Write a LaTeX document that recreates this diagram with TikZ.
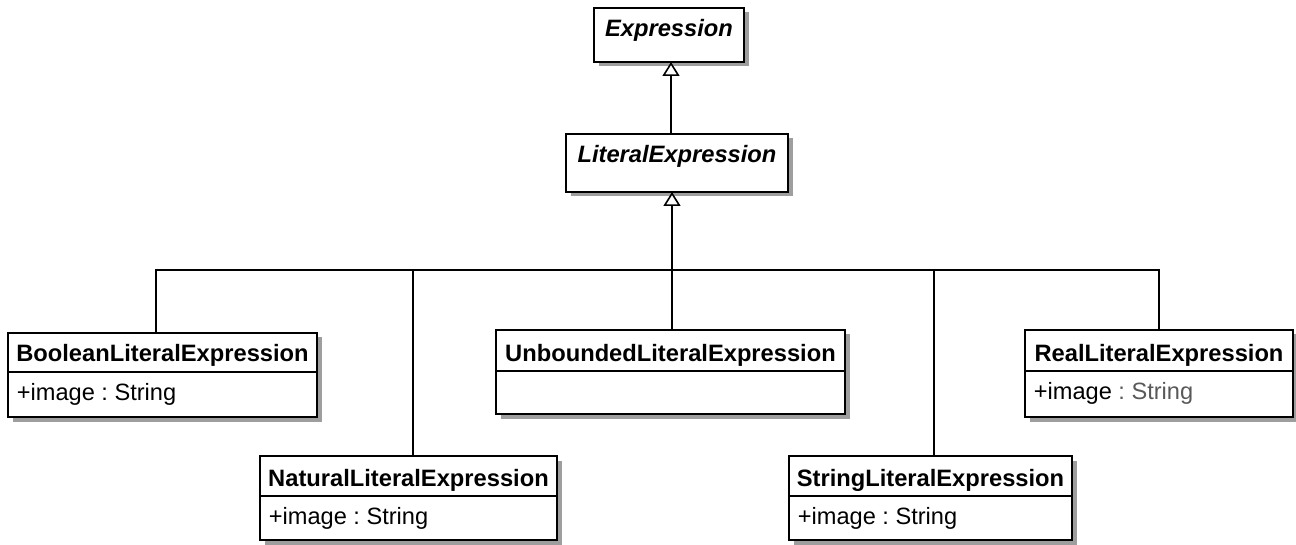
\documentclass[tikz,border=0pt]{standalone}
\usepackage{fontspec}
\setmainfont{Liberation Sans}
\usetikzlibrary{arrows.meta,shadows}
\frenchspacing
\begin{document}
\begin{tikzpicture}[x=1pt,y=-1pt,line width=1.7pt,
  classbox/.style={draw=black,fill=white,rectangle,inner sep=0pt,outer sep=0pt,anchor=north west,
    drop shadow={shadow xshift=4.5pt,shadow yshift=-4.5pt,fill=black!38,opacity=1}},
  titletext/.style={anchor=base,inner sep=0pt,font=\fontsize{23.7}{28}\selectfont\bfseries},
  abstracttext/.style={anchor=base,inner sep=0pt,font=\fontsize{23.7}{28}\selectfont\bfseries\itshape},
  attrtext/.style={anchor=base west,inner sep=0pt,font=\fontsize{23.6}{28}\selectfont\frenchspacing},
  sepline/.style={draw=black,line width=1.5pt},
  gen/.style={-{Triangle[width=17pt,length=14pt,fill=white,line width=1.6pt]}},
  conn/.style={draw=black,line width=1.7pt}]
\useasboundingbox (0,0) rectangle (1296,545);

% abstract classes
\node[classbox,minimum width=150pt,minimum height=54pt] (expr) at (594,8) {};
\node[abstracttext] (exprT) at ([yshift=-29pt]expr.north) {Expression};

\node[classbox,minimum width=222pt,minimum height=58pt] (lit) at (566,134) {};
\node[abstracttext] (litT) at ([yshift=-29pt]lit.north) {LiteralExpression};

% concrete classes
\node[classbox,minimum width=309pt,minimum height=84pt] (bool) at (8,333) {};
\draw[sepline] ([yshift=-39pt]bool.north west) -- ([yshift=-39pt]bool.north east);
\node[titletext] (boolT) at ([yshift=-29pt]bool.north) {BooleanLiteralExpression};
\node[attrtext] (boolA) at ([xshift=8pt,yshift=-67pt]bool.north west) {+image : String};

\node[classbox,minimum width=349pt,minimum height=84pt] (unb) at (496,330) {};
\draw[sepline] ([yshift=-41pt]unb.north west) -- ([yshift=-41pt]unb.north east);
\node[titletext] (unbT) at ([yshift=-31pt]unb.north) {UnboundedLiteralExpression};

\node[classbox,minimum width=268pt,minimum height=87pt] (real) at (1025,330) {};
\draw[sepline] ([yshift=-41pt]real.north west) -- ([yshift=-41pt]real.north east);
\node[titletext] (realT) at ([yshift=-31pt]real.north) {RealLiteralExpression};
\node[attrtext] (realA) at ([xshift=8pt,yshift=-69pt]real.north west) {+image {\color{black!65}: String}};

\node[classbox,minimum width=297pt,minimum height=84pt] (nat) at (260,456) {};
\draw[sepline] ([yshift=-40pt]nat.north west) -- ([yshift=-40pt]nat.north east);
\node[titletext] (natT) at ([yshift=-30pt]nat.north) {NaturalLiteralExpression};
\node[attrtext] (natA) at ([xshift=8pt,yshift=-68pt]nat.north west) {+image : String};

\node[classbox,minimum width=283pt,minimum height=84pt] (str) at (789,456) {};
\draw[sepline] ([yshift=-40pt]str.north west) -- ([yshift=-40pt]str.north east);
\node[titletext] (strT) at ([yshift=-30pt]str.north) {StringLiteralExpression};
\node[attrtext] (strA) at ([xshift=8pt,yshift=-68pt]str.north west) {+image : String};

% connectors
\coordinate (bus) at (672,270);
\draw[conn,gen] ([xshift=-6pt]lit.north) -- ([xshift=-6pt]lit.north |- expr.south);
\draw[conn,gen] (bus) -- (bus |- lit.south);
\draw[conn] ([xshift=1.5pt]unb.north) -- ([xshift=1.5pt]unb.north |- bus);
\draw[conn] ([xshift=-6.5pt]bool.north) |- (bus);
\draw[conn] (real.north) |- (bus);
\draw[conn] ([xshift=4.5pt]nat.north) -- ([xshift=4.5pt]nat.north |- bus);
\draw[conn] ([xshift=3.5pt]str.north) -- ([xshift=3.5pt]str.north |- bus);
\end{tikzpicture}
\end{document}
